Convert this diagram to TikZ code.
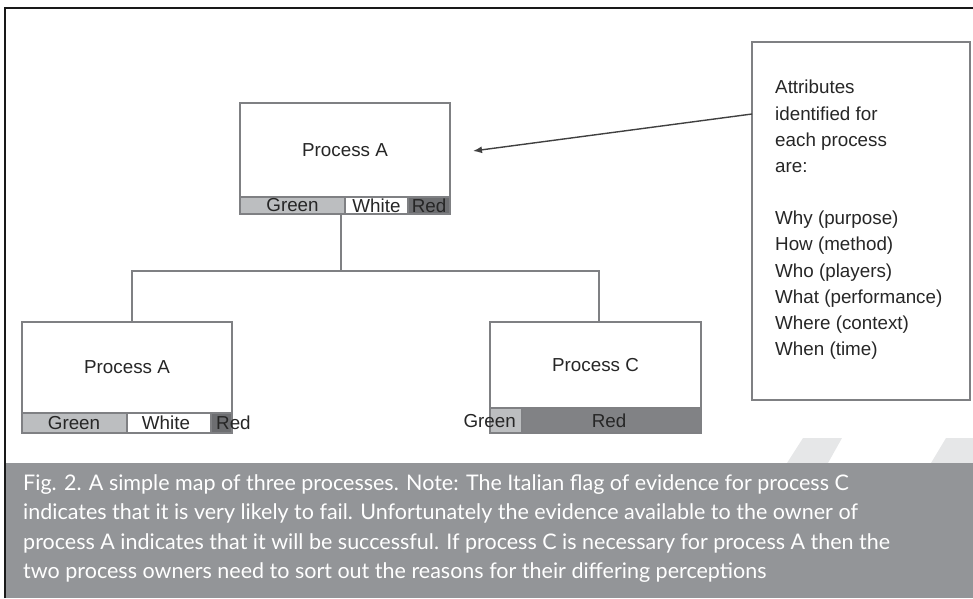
\documentclass[tikz,border=0pt]{standalone}
\usepackage{fontspec}
\setmainfont{Liberation Sans}
\newfontfamily\capfont{Lato}
\usetikzlibrary{arrows.meta}
\definecolor{boxline}{HTML}{7F8083}
\definecolor{flaggreen}{HTML}{BCBEC0}
\definecolor{flagred}{HTML}{6D6E71}
\definecolor{flagredc}{HTML}{818285}
\definecolor{capband}{HTML}{939598}
\definecolor{diagray}{HTML}{E6E7E8}
\tikzset{
  procbox/.style={draw=boxline, line width=1.4pt, fill=white, inner sep=0pt, font=\fontsize{18.8}{21}\selectfont, text=black!85},
  flagpart/.style={draw=boxline, line width=1.2pt, inner sep=0pt, minimum height=17pt, font=\fontsize{18.8}{21}\selectfont, text=black!85},
  flagtext/.style={inner sep=0pt, font=\fontsize{18.8}{21}\selectfont, text=black!85},
  conn/.style={draw=boxline, line width=1.4pt},
}
\begin{document}
\begin{tikzpicture}[x=1pt,y=-1pt]
\useasboundingbox (0,0) rectangle (973,598);
% background decorations
\fill[diagray] (803,438) -- (842,438) -- (828,463) -- (787,463) -- cycle;
\fill[diagray] (946,438) -- (973,438) -- (973,463) -- (931,463) -- cycle;
\fill[capband] (6,463) rectangle (973,598);
\draw[black!90, line width=2.6pt] (5,598) -- (5,8) -- (973,8);

% top Process A
\node[procbox, minimum width=210pt, minimum height=94pt] (pa1) at (345,150) {Process A};
\node[flagpart, fill=flaggreen, minimum width=105pt] (g1) at (292.5,205.5) {Green};
\node[flagpart, fill=white, minimum width=63pt] (w1) at (376.5,205.5) {White};
\node[flagpart, fill=flagred, minimum width=42pt] (r1) at (429,205.5) {Red};

% left Process A
\node[procbox, minimum width=210pt, minimum height=91pt] (pa2) at (127,367.5) {Process A};
\node[flagpart, fill=flaggreen, minimum width=105pt, minimum height=20pt] (g2) at (74.5,423) {};
\node[flagpart, fill=white, minimum width=84pt, minimum height=20pt] (w2) at (169,423) {};
\node[flagpart, fill=flagred, minimum width=21pt, minimum height=20pt] (r2) at (221.5,423) {};
\node[flagtext] (g2t) at (74,423) {Green};
\node[flagtext] (w2t) at (166,423) {White};
\node[flagtext, anchor=west] (r2t) at (216,423) {Red};

% Process C
\node[procbox, minimum width=211pt, minimum height=86pt] (pc) at (595.5,365) {Process C};
\node[flagpart, fill=flaggreen, minimum width=32pt, minimum height=25pt] (g3) at (506,420.5) {};
\node[flagpart, fill=flagredc, minimum width=179pt, minimum height=25pt] (r3) at (611.5,420.5) {};
\node[flagtext] (r3t) at (609,421) {Red};
\node[flagtext, anchor=east] (g3t) at (516,421) {Green};

% tree connectors
\coordinate (j) at (341,271);
\coordinate (jl) at (132,271);
\coordinate (jr) at (599,271);
\draw[conn] (j |- g1.south) -- (j);
\draw[conn] (jl |- pa2.north) -- (jl) -- (jr) -- (jr |- pc.north);

% attributes box
\node[draw=boxline, line width=1.4pt, minimum width=218pt, minimum height=358pt, inner sep=0pt] (att) at (861,221) {};
\node[anchor=north west, inner sep=0pt, align=left, font=\fontsize{18.8}{26.2}\selectfont, text=black!85] (atttext) at (775,80)
 {Attributes\\identified for\\each process\\are:\\[26pt]Why (purpose)\\How (method)\\Who (players)\\What (performance)\\Where (context)\\When (time)};
\coordinate (as) at (752,114);
\coordinate (tip) at (473,151);
\draw[draw=black!75, line width=1.4pt, -{Latex[length=9pt,width=7pt]}] (as) -- (tip);

% caption
\node[anchor=north west, inner sep=0pt, align=left, text=white, font=\capfont\fontsize{21.5}{29.5}\selectfont] (cap) at (23,474)
 {Fig. 2. A simple map of three processes. Note: The Italian flag of evidence for process C\\
  indicates that it is very likely to fail. Unfortunately the evidence available to the owner of\\
  process A indicates that it will be successful. If process C is necessary for process A then the\\
  two process owners need to sort out the reasons for their differing perceptions};
\end{tikzpicture}
\end{document}
